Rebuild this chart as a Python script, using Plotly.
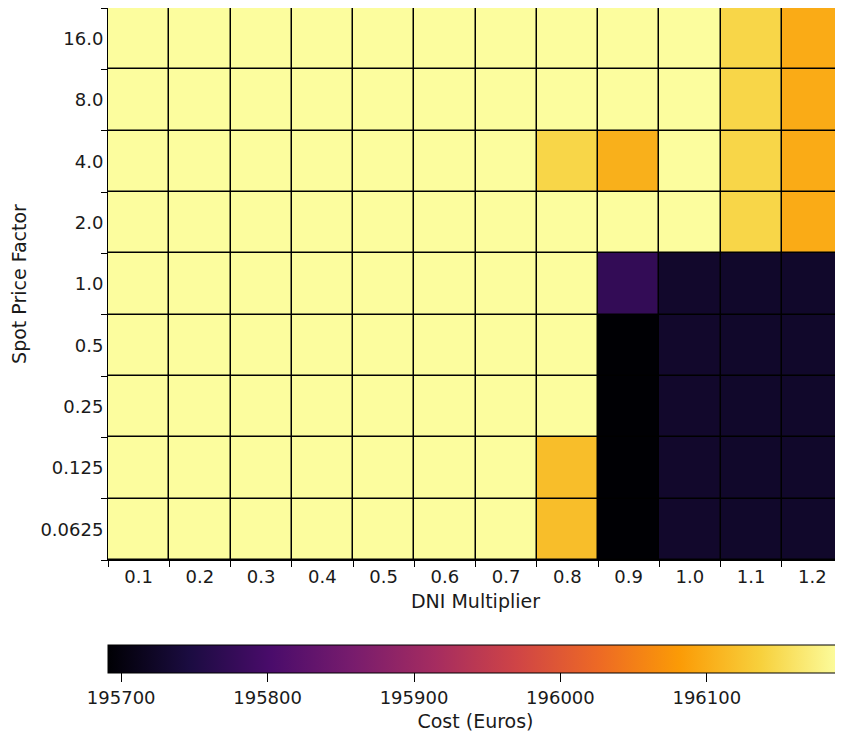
import plotly.graph_objects as go

dni = ["0.1", "0.2", "0.3", "0.4", "0.5", "0.6", "0.7", "0.8", "0.9", "1.0", "1.1", "1.2"]
spot = ["0.0625", "0.125", "0.25", "0.5", "1.0", "2.0", "4.0", "8.0", "16.0"]

Y = 196190
row_00625 = [Y, Y, Y, Y, Y, Y, Y, 196118, 195691, 195728, 195727, 195727]
row_0125 = [Y, Y, Y, Y, Y, Y, Y, 196118, 195691, 195728, 195727, 195727]
row_025 = [Y, Y, Y, Y, Y, Y, Y, Y, 195691, 195728, 195727, 195727]
row_05 = [Y, Y, Y, Y, Y, Y, Y, Y, 195691, 195728, 195727, 195727]
row_1 = [Y, Y, Y, Y, Y, Y, Y, Y, 195775, 195728, 195727, 195727]
row_2 = [Y, Y, Y, Y, Y, Y, Y, Y, Y, Y, 196143, 196098]
row_4 = [Y, Y, Y, Y, Y, Y, Y, 196143, 196103, Y, 196143, 196098]
row_8 = [Y, Y, Y, Y, Y, Y, Y, Y, Y, Y, 196143, 196098]
row_16 = [Y, Y, Y, Y, Y, Y, Y, Y, Y, Y, 196143, 196098]

z = [row_00625, row_0125, row_025, row_05, row_1, row_2, row_4, row_8, row_16]

cbar_ticks = [195700, 195800, 195900, 196000, 196100]

tick_font = dict(family="DejaVu Sans", size=18, color="#1a1a1a")
title_font = dict(family="DejaVu Sans", size=19, color="#1a1a1a")

fig = go.Figure(
    go.Heatmap(
        x=dni,
        y=spot,
        z=z,
        colorscale="Inferno",
        zmin=195691,
        zmax=196193,
        xgap=1.5,
        ygap=1.5,
        colorbar=dict(
            orientation="h",
            x=0.5,
            xanchor="center",
            y=-0.154,
            yanchor="top",
            len=1.0,
            lenmode="fraction",
            thickness=28,
            outlinecolor="black",
            outlinewidth=1,
            xpad=0,
            ypad=0,
            tickvals=cbar_ticks,
            ticktext=[str(v) for v in cbar_ticks],
            ticks="outside",
            ticklen=9,
            tickcolor="black",
            tickfont=tick_font,
            title=dict(text="Cost (Euros)", side="bottom", font=title_font),
        ),
    )
)

fig.update_layout(
    width=835,
    height=737,
    margin=dict(l=100, r=0, t=0, b=185),
    paper_bgcolor="white",
    plot_bgcolor="black",
    font=tick_font,
    xaxis=dict(
        type="category",
        tickson="boundaries",
        ticks="outside",
        ticklen=6,
        tickcolor="black",
        showgrid=False,
        showline=True,
        linecolor="black",
        linewidth=1,
        mirror=True,
        title=dict(text="DNI Multiplier", font=title_font, standoff=9),
        tickfont=tick_font,
    ),
    yaxis=dict(
        type="category",
        tickson="boundaries",
        ticks="outside",
        ticklen=6,
        tickcolor="black",
        showgrid=False,
        showline=True,
        linecolor="black",
        linewidth=1,
        mirror=True,
        title=dict(text="Spot Price Factor", font=title_font, standoff=8),
        tickfont=tick_font,
    ),
)

fig.write_html("out.html")
